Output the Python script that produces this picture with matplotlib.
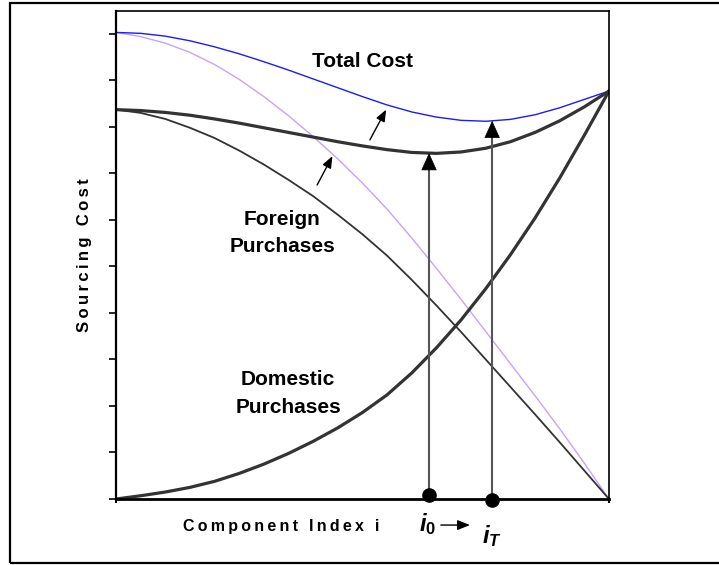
import numpy as np
import matplotlib
matplotlib.use("Agg")
import matplotlib.pyplot as plt
from matplotlib.patches import Rectangle

plt.rcParams['font.family'] = ['Liberation Sans', 'DejaVu Sans']
plt.rcParams['font.weight'] = 'bold'
plt.rcParams['mathtext.fontset'] = 'custom'
plt.rcParams['mathtext.it'] = 'Liberation Sans:italic:bold'
plt.rcParams['mathtext.rm'] = 'Liberation Sans:bold'

# component index (0 = left edge, 1 = right edge)
component_index = [0.00, 0.05, 0.10, 0.15, 0.20, 0.25, 0.30, 0.35, 0.40, 0.45, 0.50,
                   0.55, 0.60, 0.65, 0.70, 0.75, 0.80, 0.85, 0.90, 0.95, 1.00]
# sourcing cost curves
foreign_before = [8.37, 8.30, 8.17, 7.98, 7.76, 7.49, 7.19, 6.86, 6.51, 6.11, 5.69,
                  5.23, 4.71, 4.16, 3.59, 3.00, 2.41, 1.82, 1.22, 0.61, 0.00]
foreign_after = [10.03, 9.94, 9.80, 9.60, 9.34, 9.02, 8.65, 8.24, 7.79, 7.31, 6.79,
                 6.23, 5.61, 4.96, 4.29, 3.60, 2.91, 2.22, 1.51, 0.77, 0.00]
domestic = [0.00, 0.07, 0.15, 0.25, 0.38, 0.55, 0.75, 0.98, 1.24, 1.53, 1.86,
            2.24, 2.71, 3.25, 3.85, 4.52, 5.25, 6.04, 6.90, 7.82, 8.77]
total_before = [8.37, 8.35, 8.31, 8.25, 8.17, 8.08, 7.98, 7.88, 7.78, 7.68, 7.59,
                7.51, 7.45, 7.43, 7.46, 7.54, 7.68, 7.88, 8.13, 8.43, 8.77]
total_after = [10.03, 10.01, 9.95, 9.85, 9.72, 9.57, 9.40, 9.22, 9.03, 8.84, 8.65,
               8.47, 8.32, 8.21, 8.14, 8.12, 8.16, 8.26, 8.41, 8.59, 8.77]

i_0 = 0.635
i_T = 0.763

fig = plt.figure(figsize=(7.19, 5.65), dpi=100)
ax = fig.add_axes([0.1613, 0.1168, 0.6857, 0.8637])

ax.plot(component_index, foreign_after, color='#c8a2f8', lw=1.0)
ax.plot(component_index, total_after, color='#1a1aff', lw=1.0)
ax.plot(component_index, foreign_before, color='#333333', lw=1.3)
ax.plot(component_index, total_before, color='#333333', lw=2.3)
ax.plot(component_index, domestic, color='#333333', lw=2.3)

# vertical arrows from the optimal index up to the total cost curves
top_0 = np.interp(i_0, component_index, total_before)
top_T = np.interp(i_T, component_index, total_after)
for xi, yt, yd in [(i_0, top_0, 0.09), (i_T, top_T, -0.03)]:
    ax.plot([xi, xi], [yd, yt - 0.3], color='#555555', lw=1.5, clip_on=False)
    ax.annotate('', xy=(xi, yt), xytext=(0, -12), textcoords='offset points',
                arrowprops=dict(arrowstyle='-|>,head_length=1.15,head_width=0.52',
                                mutation_scale=10, color='black', lw=0.5,
                                shrinkA=0, shrinkB=0))
    ax.plot(xi, yd, 'o', color='black', markersize=9.5, clip_on=False, zorder=5)

# small arrows showing the upward shift
for x0, y0, x1, y1 in [(0.408, 6.75, 0.439, 7.37), (0.515, 7.72, 0.548, 8.37)]:
    ax.annotate('', xy=(x1, y1), xytext=(x0, y0),
                arrowprops=dict(arrowstyle='-|>,head_length=0.7,head_width=0.28',
                                mutation_scale=10, color='black', lw=1.0,
                                shrinkA=0, shrinkB=0))

ax.text(0.5, 9.28, 'Total Cost', ha='center', va='baseline', fontsize=15)
ax.text(0.337, 5.89, 'Foreign', ha='center', va='baseline', fontsize=15)
ax.text(0.337, 5.32, 'Purchases', ha='center', va='baseline', fontsize=15)
ax.text(0.349, 2.45, 'Domestic', ha='center', va='baseline', fontsize=15)
ax.text(0.349, 1.85, 'Purchases', ha='center', va='baseline', fontsize=15)

ax.text(0.632, -0.70, r'$i_{\mathit{0}}$', ha='center', va='baseline', fontsize=17)
ax.text(0.762, -0.94, '$i_T$', ha='center', va='baseline', fontsize=17)
ax.annotate('', xy=(0.718, -0.56), xytext=(0.659, -0.56), annotation_clip=False,
            arrowprops=dict(arrowstyle='-|>,head_length=0.75,head_width=0.3',
                            mutation_scale=10, color='black', lw=1.0,
                            shrinkA=0, shrinkB=0))

ax.set_xlim(0, 1)
ax.set_ylim(0, 10.49)
ax.set_yticks(range(11))
ax.set_xticks([0, 1])
ax.set_yticklabels([])
ax.set_xticklabels([])
ax.tick_params(axis='y', direction='out', length=5, width=1.2, color='black')
ax.tick_params(axis='x', direction='out', length=3, width=1.5, color='black')
ax.spines['left'].set_linewidth(1.6)
ax.spines['bottom'].set_linewidth(2.0)
ax.spines['top'].set_linewidth(1.2)
ax.spines['right'].set_linewidth(1.2)

sp = '\u2009'
fig.text(84 / 719, 0.5487, sp.join('Sourcing Cost'), rotation=90,
         ha='center', va='center', fontsize=12)
fig.text(281 / 719, 0.0602, sp.join('Component Index i'),
         ha='center', va='baseline', fontsize=11.5)

# outer frame
fig.patches.append(Rectangle((10 / 719, 2 / 565), 1.2, 1 - 5 / 565,
                             transform=fig.transFigure, fill=False,
                             edgecolor='black', lw=1.6))

fig.savefig('out.png', dpi=100)
